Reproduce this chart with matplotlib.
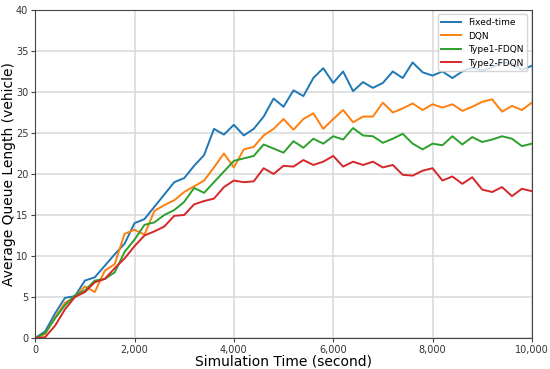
import matplotlib.pyplot as plt
from matplotlib.ticker import FuncFormatter

steps = list(range(0, 10001, 200))

fixedTime = [0, 0.8, 3, 4.9, 5.1, 7, 7.4, 8.8, 10.2, 11.5, 14, 14.5, 16, 17.5, 19, 19.5,
             21, 22.3, 25.5, 24.8, 26, 24.7, 25.5, 27, 29.2, 28.2, 30.2, 29.5, 31.7, 32.9,
             31.1, 32.5, 30.1, 31.2, 30.5, 31.1, 32.5, 31.7, 33.6, 32.4, 32, 32.5, 31.7,
             32.5, 33, 32.6, 33, 33.6, 33.5, 32.7, 33.2]
dqn = [0, 0.5, 2.5, 4.3, 5, 6.3, 5.6, 8.2, 9, 12.7, 13.2, 12.6, 15.5, 16.2, 16.8, 17.8,
       18.5, 19.2, 20.8, 22.5, 20.8, 23, 23.3, 24.7, 25.5, 26.7, 25.4, 26.7, 27.4, 25.5,
       26.7, 27.8, 26.3, 27, 27, 28.7, 27.5, 28, 28.6, 27.8, 28.5, 28.1, 28.5, 27.7,
       28.2, 28.8, 29.1, 27.6, 28.3, 27.8, 28.7]
type1 = [0, 0.6, 2.4, 4, 5.2, 5.8, 7, 7.2, 8, 10.5, 12, 13.8, 14.1, 15, 15.6, 16.6,
         18.3, 17.7, 19, 20.3, 21.6, 21.9, 22.2, 23.6, 23.1, 22.6, 24, 23.2, 24.3, 23.7,
         24.6, 24.2, 25.6, 24.7, 24.6, 23.8, 24.3, 24.9, 23.7, 23, 23.7, 23.5, 24.6,
         23.6, 24.5, 23.9, 24.2, 24.6, 24.3, 23.4, 23.7]
type2 = [0, 0.1, 1.5, 3.5, 5, 5.6, 6.8, 7.2, 8.5, 9.7, 11.2, 12.5, 13, 13.6, 14.9, 15,
         16.3, 16.7, 17, 18.4, 19.2, 19, 19.1, 20.7, 20, 21, 20.9, 21.7, 21.1, 21.5,
         22.2, 20.9, 21.5, 21.1, 21.5, 20.8, 21.1, 19.9, 19.8, 20.4, 20.7, 19.2, 19.7,
         18.8, 19.6, 18.1, 17.8, 18.4, 17.3, 18.2, 17.9]

fig, ax = plt.subplots(figsize=(5.5, 3.69), dpi=100)
ax.plot(steps, fixedTime, color='#1f77b4', linewidth=1.4, label='Fixed-time')
ax.plot(steps, dqn, color='#ff7f0e', linewidth=1.4, label='DQN')
ax.plot(steps, type1, color='#2ca02c', linewidth=1.4, label='Type1-FDQN')
ax.plot(steps, type2, color='#d62728', linewidth=1.4, label='Type2-FDQN')

ax.set_xlim(0, 10000)
ax.set_ylim(0, 40)
ax.set_xticks(range(0, 10001, 2000))
ax.set_yticks(range(0, 41, 5))
ax.xaxis.set_major_formatter(FuncFormatter(lambda v, p: f"{int(v):,}"))
ax.tick_params(labelsize=7, color='#444444', labelcolor='#333333', length=3, pad=2)
ax.grid(True, color='#d9d9d9', linewidth=1.1)
ax.set_axisbelow(True)
for s in ax.spines.values():
    s.set_color('#444444')
ax.set_xlabel("Simulation Time (second)", fontsize=10, labelpad=0)
ax.set_ylabel("Average Queue Length (vehicle)", fontsize=10, labelpad=0)
ax.legend(loc='upper right', fontsize=6.5, handlelength=2.2)

plt.subplots_adjust(left=0.064, right=0.967, top=0.973, bottom=0.084)
plt.savefig("out.png", dpi=100)
